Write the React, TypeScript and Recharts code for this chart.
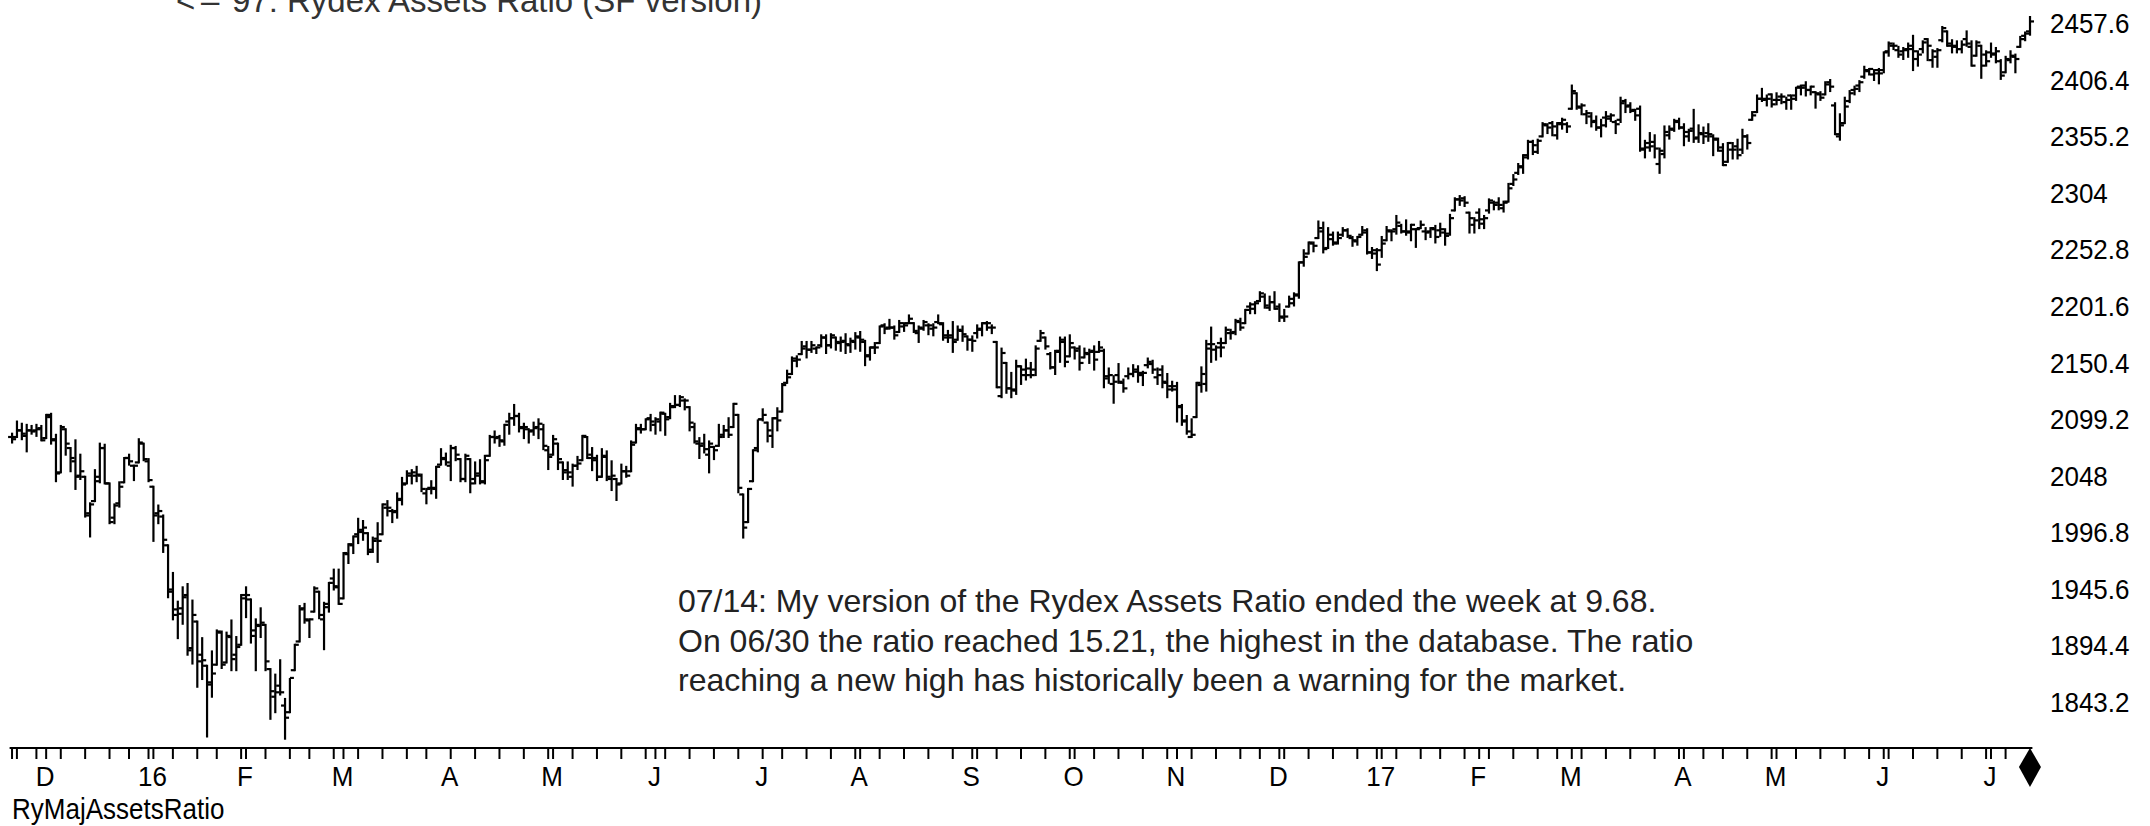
import React from 'react';
import { ComposedChart, Bar, XAxis, YAxis } from 'recharts';

const FONT = '"Liberation Sans", Arial, Helvetica, sans-serif';

// trading calendar
const START = [2015, 11, 19];
const END = [2017, 7, 14];
const HOLIDAYS = [
  '2015-11-26', '2015-12-25', '2016-01-01', '2016-01-18', '2016-02-15', '2016-03-25',
  '2016-05-30', '2016-07-04', '2016-09-05', '2016-11-24', '2016-12-26', '2017-01-02',
  '2017-01-16', '2017-02-20', '2017-04-14', '2017-05-29', '2017-07-04',
];

// daily bars [open, high, low, close], one array per month
const nov15 = [[2083,2086,2078,2081],[2083,2097,2083,2089],[2089,2095,2081,2086],[2084,2094,2070,2089],[2089,2093,2086,2088],[2089,2094,2084,2090],[2091,2093,2080,2080]];
const dec15 = [[2082,2103,2082,2103],[2101,2104,2077,2080],[2081,2085,2043,2050],[2051,2093,2051,2092],[2090,2090,2067,2077],[2073,2073,2052,2064],[2061,2080,2036,2047],[2048,2067,2045,2052],[2047,2047,2011,2012],[2014,2023,1993,2022],[2025,2053,2025,2043],[2047,2077,2042,2073],[2073,2076,2041,2041],[2041,2041,2005,2006],[2010,2022,2005,2021],[2023,2042,2020,2038],[2042,2064,2042,2064],[2064,2067,2058,2061],[2057,2057,2044,2057],[2060,2081,2060,2078],[2077,2077,2062,2063],[2061,2063,2043,2044]];
const jan16 = [[2038,2038,1989,2012],[2014,2021,2005,2016],[2011,2012,1979,1990],[1985,1985,1938,1943],[1945,1960,1918,1922],[1927,1934,1901,1923],[1928,1947,1914,1938],[1940,1950,1886,1890],[1892,1935,1878,1922],[1916,1916,1857,1880],[1886,1901,1864,1881],[1876,1876,1812,1859],[1861,1889,1848,1869],[1877,1908,1877,1907],[1906,1907,1874,1877],[1879,1906,1879,1903],[1902,1917,1872,1882],[1886,1902,1872,1893],[1895,1940,1895,1940]];
const feb16 = [[1937,1947,1920,1940],[1936,1936,1897,1903],[1908,1918,1872,1913],[1912,1928,1902,1915],[1913,1913,1872,1880],[1873,1873,1828,1853],[1848,1868,1834,1852],[1858,1881,1850,1852],[1840,1846,1810,1829],[1834,1864,1834,1865],[1872,1895,1872,1895],[1898,1930,1898,1927],[1928,1932,1915,1918],[1917,1918,1902,1918],[1925,1947,1925,1946],[1943,1943,1919,1922],[1918,1933,1891,1929],[1932,1951,1925,1951],[1955,1963,1945,1948],[1947,1963,1932,1932]];
const mar16 = [[1937,1978,1937,1978],[1977,1986,1969,1986],[1985,1993,1978,1993],[1995,2009,1987,1999],[1997,2007,1990,2001],[1996,1996,1977,1979],[1981,1992,1979,1989],[1991,2005,1970,1989],[1995,2022,1995,2022],[2019,2025,2012,2019],[2016,2017,2006,2015],[2016,2032,2010,2027],[2026,2046,2022,2040],[2041,2052,2041,2050],[2048,2053,2041,2051],[2048,2056,2043,2049],[2048,2049,2034,2036],[2032,2036,2023,2036],[2037,2043,2032,2037],[2036,2056,2028,2056],[2058,2072,2058,2064],[2063,2068,2058,2060]];
const apr16 = [[2057,2075,2044,2073],[2073,2074,2062,2067],[2063,2063,2043,2045],[2045,2067,2043,2066],[2063,2063,2033,2041],[2045,2060,2041,2048],[2050,2062,2041,2042],[2043,2066,2041,2062],[2066,2084,2066,2083],[2083,2088,2078,2082],[2083,2084,2075,2080],[2079,2094,2076,2094],[2097,2104,2086,2100],[2100,2112,2094,2102],[2102,2104,2088,2091],[2092,2095,2082,2092],[2090,2090,2078,2088],[2089,2096,2085,2091],[2092,2099,2082,2095],[2090,2094,2072,2075],[2071,2074,2054,2065]];
const may16 = [[2067,2084,2067,2081],[2077,2077,2054,2063],[2060,2060,2045,2051],[2053,2060,2045,2051],[2047,2058,2039,2057],[2057,2065,2054,2059],[2062,2084,2062,2084],[2083,2083,2064,2064],[2067,2073,2053,2064],[2062,2066,2044,2047],[2047,2072,2047,2066],[2065,2070,2044,2047],[2045,2061,2035,2048],[2045,2045,2026,2040],[2041,2058,2041,2052],[2052,2056,2047,2048],[2052,2079,2052,2076],[2078,2094,2078,2090],[2091,2094,2087,2090],[2090,2099,2090,2099],[2100,2103,2089,2097]];
const jun16 = [[2094,2100,2086,2099],[2097,2105,2089,2105],[2104,2104,2085,2099],[2101,2113,2100,2110],[2111,2120,2110,2112],[2112,2120,2111,2119],[2116,2117,2108,2116],[2110,2110,2089,2096],[2092,2095,2078,2079],[2077,2082,2064,2075],[2077,2085,2069,2072],[2067,2079,2051,2077],[2074,2074,2063,2071],[2075,2094,2075,2083],[2085,2093,2083,2089],[2089,2100,2083,2085],[2092,2113,2092,2113],[2103,2103,2033,2037],[2031,2031,1992,2001],[2006,2036,2006,2036],[2043,2071,2043,2071],[2073,2098,2070,2099]];
const jul16 = [[2099,2108,2098,2103],[2096,2096,2079,2089],[2084,2100,2074,2100],[2100,2109,2089,2098],[2106,2131,2106,2130],[2132,2143,2132,2137],[2140,2155,2140,2152],[2154,2156,2147,2153],[2158,2169,2158,2163],[2165,2169,2155,2162],[2162,2169,2160,2166],[2163,2164,2159,2164],[2166,2175,2165,2173],[2173,2175,2159,2166],[2166,2176,2164,2175],[2173,2173,2162,2169],[2168,2173,2161,2169],[2170,2176,2159,2167],[2166,2172,2160,2170],[2169,2177,2163,2174]];
const aug16 = [[2173,2178,2161,2171],[2169,2170,2148,2157],[2156,2164,2153,2164],[2164,2168,2159,2164],[2168,2183,2168,2183],[2184,2185,2177,2181],[2182,2189,2181,2182],[2182,2183,2172,2175],[2178,2188,2178,2186],[2183,2186,2179,2184],[2186,2193,2186,2190],[2186,2186,2178,2179],[2177,2183,2169,2182],[2181,2188,2180,2187],[2184,2185,2176,2184],[2181,2185,2175,2182],[2187,2193,2186,2186],[2185,2186,2171,2175],[2173,2179,2169,2173],[2175,2187,2160,2169],[2171,2183,2171,2180],[2179,2183,2170,2176],[2174,2174,2162,2171]];
const sep16 = [[2171,2174,2161,2170],[2177,2184,2173,2180],[2181,2186,2175,2186],[2186,2187,2180,2186],[2182,2184,2177,2182],[2169,2169,2128,2128],[2120,2163,2119,2159],[2150,2150,2123,2127],[2127,2141,2119,2126],[2125,2152,2122,2147],[2147,2147,2131,2139],[2144,2153,2135,2139],[2145,2150,2137,2139],[2144,2165,2139,2163],[2170,2179,2170,2177],[2173,2173,2163,2165],[2158,2159,2145,2146],[2146,2161,2140,2160],[2161,2173,2151,2171],[2169,2173,2147,2151],[2156,2175,2156,2168]];
const oct16 = [[2164,2164,2154,2161],[2163,2165,2144,2150],[2155,2163,2155,2159],[2158,2162,2150,2160],[2161,2165,2144,2153],[2160,2169,2160,2164],[2161,2162,2128,2136],[2138,2145,2132,2139],[2131,2138,2114,2133],[2139,2149,2132,2133],[2132,2135,2124,2127],[2138,2145,2136,2140],[2140,2148,2138,2144],[2142,2147,2133,2141],[2139,2142,2130,2141],[2148,2154,2146,2151],[2149,2152,2141,2144],[2137,2145,2131,2139],[2144,2147,2128,2133],[2132,2140,2119,2126],[2129,2133,2125,2126]];
const nov16 = [[2129,2132,2097,2111],[2110,2112,2094,2097],[2098,2102,2086,2088],[2083,2099,2083,2085],[2101,2132,2101,2132],[2130,2146,2124,2140],[2131,2170,2125,2163],[2167,2182,2151,2167],[2162,2165,2153,2164],[2168,2172,2156,2164],[2168,2182,2168,2180],[2177,2180,2172,2177],[2178,2189,2176,2188],[2187,2190,2180,2182],[2186,2198,2186,2198],[2201,2204,2195,2203],[2199,2205,2195,2204],[2206,2214,2206,2213],[2210,2212,2200,2202],[2200,2210,2198,2205],[2205,2214,2199,2199]];
const dec16 = [[2201,2203,2188,2192],[2191,2198,2188,2192],[2201,2210,2201,2204],[2208,2213,2202,2212],[2211,2241,2209,2241],[2241,2252,2238,2246],[2249,2259,2249,2259],[2258,2259,2251,2256],[2263,2278,2263,2272],[2269,2277,2250,2253],[2254,2272,2254,2262],[2266,2268,2257,2258],[2259,2268,2258,2263],[2266,2272,2265,2270],[2270,2271,2264,2265],[2263,2264,2256,2261],[2260,2264,2257,2264],[2266,2273,2266,2268],[2270,2271,2249,2250],[2250,2254,2245,2249],[2252,2253,2234,2239]];
const jan17 = [[2252,2264,2246,2258],[2261,2273,2261,2270],[2269,2270,2261,2269],[2271,2283,2267,2277],[2274,2275,2268,2269],[2269,2279,2266,2269],[2268,2275,2261,2275],[2271,2271,2255,2271],[2272,2278,2272,2275],[2269,2272,2262,2268],[2269,2272,2264,2272],[2271,2274,2259,2264],[2270,2276,2265,2271],[2268,2271,2257,2265],[2267,2284,2266,2281],[2288,2299,2288,2298],[2298,2301,2293,2297],[2299,2300,2292,2295],[2286,2286,2268,2281],[2275,2281,2268,2279]];
const feb17 = [[2286,2289,2272,2280],[2276,2283,2272,2281],[2288,2298,2286,2297],[2295,2296,2289,2293],[2295,2299,2289,2293],[2290,2296,2287,2295],[2296,2312,2296,2308],[2312,2320,2311,2316],[2322,2330,2321,2328],[2327,2338,2322,2338],[2336,2351,2335,2350],[2350,2351,2339,2347],[2341,2352,2340,2351],[2355,2367,2355,2366],[2365,2366,2358,2363],[2367,2368,2356,2364],[2356,2367,2353,2367],[2366,2371,2362,2370],[2366,2367,2359,2364]];
const mar17 = [[2380,2401,2380,2396],[2394,2394,2380,2382],[2381,2384,2375,2383],[2375,2378,2367,2376],[2373,2376,2364,2368],[2369,2373,2361,2363],[2363,2370,2355,2365],[2372,2377,2364,2373],[2371,2375,2369,2374],[2368,2369,2358,2366],[2370,2390,2368,2385],[2387,2388,2377,2382],[2383,2385,2377,2378],[2379,2379,2370,2374],[2380,2382,2342,2344],[2343,2351,2336,2349],[2345,2358,2342,2346],[2350,2356,2336,2344],[2330,2344,2322,2342],[2339,2364,2336,2359],[2356,2364,2353,2362],[2361,2370,2360,2369],[2368,2371,2362,2363]];
const apr17 = [[2363,2366,2347,2359],[2355,2361,2351,2360],[2362,2379,2350,2353],[2354,2365,2350,2358],[2357,2363,2349,2355],[2358,2366,2351,2357],[2355,2356,2338,2353],[2352,2353,2342,2345],[2342,2348,2329,2329],[2332,2349,2332,2349],[2343,2349,2335,2343],[2346,2352,2335,2338],[2343,2361,2340,2355],[2355,2356,2344,2349],[2370,2377,2370,2374],[2377,2392,2377,2389],[2389,2398,2387,2388],[2389,2392,2383,2389],[2393,2393,2382,2384]];
const may17 = [[2388,2394,2384,2388],[2391,2393,2385,2391],[2386,2390,2380,2388],[2392,2392,2380,2389],[2392,2399,2388,2399],[2400,2401,2393,2399],[2401,2404,2392,2397],[2397,2400,2393,2400],[2395,2395,2381,2394],[2393,2395,2388,2390],[2393,2404,2393,2402],[2404,2406,2396,2400],[2383,2385,2357,2357],[2355,2375,2352,2365],[2367,2390,2367,2382],[2387,2396,2386,2394],[2397,2400,2393,2398],[2401,2405,2396,2404],[2409,2418,2408,2415],[2414,2416,2411,2416],[2411,2415,2406,2412],[2415,2416,2403,2412]];
const jun17 = [[2415,2431,2413,2431],[2432,2440,2428,2439],[2437,2439,2434,2437],[2433,2436,2427,2429],[2432,2435,2425,2433],[2434,2439,2427,2434],[2437,2446,2415,2432],[2425,2432,2419,2429],[2434,2441,2431,2440],[2443,2443,2424,2437],[2424,2433,2418,2432],[2427,2434,2418,2433],[2442,2454,2441,2453],[2450,2450,2437,2437],[2439,2442,2431,2436],[2437,2441,2431,2434],[2434,2441,2431,2438],[2443,2450,2437,2439],[2436,2441,2419,2419],[2428,2441,2428,2440],[2437,2437,2408,2419],[2429,2432,2419,2423]];
const jul17 = [[2431,2439,2427,2429],[2430,2435,2422,2432],[2423,2424,2407,2410],[2413,2427,2413,2425],[2424,2432,2422,2428],[2427,2429,2413,2425],[2436,2445,2436,2443],[2446,2449,2442,2448],[2450,2463,2447,2459]];

const MONTH_SERIES = [nov15, dec15, jan16, feb16, mar16, apr16, may16, jun16, jul16, aug16, sep16, oct16, nov16, dec16, jan17, feb17, mar17, apr17, may17, jun17, jul17];
const MONTH_LETTERS = ['J', 'F', 'M', 'A', 'M', 'J', 'J', 'A', 'S', 'O', 'N', 'D'];
const Y_TICKS = [1843.2, 1894.4, 1945.6, 1996.8, 2048, 2099.2, 2150.4, 2201.6, 2252.8, 2304, 2355.2, 2406.4, 2457.6];
const Y_DOMAIN = [1801.6, 2478.4];

const TITLE_ARROW = '<';
const TITLE_DASH = '\u2013';
const TITLE = '97: Rydex Assets Ratio (SF version)';
const NOTE_LINES = [
  '07/14: My version of the Rydex Assets Ratio ended the week at 9.68.',
  'On 06/30 the ratio reached 15.21, the highest in the database. The ratio',
  'reaching a new high has historically been a warning for the market.',
];
const PANEL_LABEL = 'RyMajAssetsRatio';

type Row = {
  key: string; o: number; h: number; l: number; c: number; range: [number, number];
  yr: number; m: number; dn: number; monthStart: boolean; weekEnd: boolean;
};

function buildData(): Row[] {
  const hol = new Set(HOLIDAYS);
  const DAY = 86400000;
  let t = Date.UTC(START[0], START[1] - 1, START[2]);
  const end = Date.UTC(END[0], END[1] - 1, END[2]);
  const groups: { yr: number; m: number; days: { key: string; yr: number; m: number; dn: number }[] }[] = [];
  while (t <= end) {
    const dt = new Date(t);
    const wd = dt.getUTCDay();
    const key = dt.toISOString().slice(0, 10);
    if (wd !== 0 && wd !== 6 && !hol.has(key)) {
      const d = { key, yr: dt.getUTCFullYear(), m: dt.getUTCMonth(), dn: Math.floor(t / DAY) };
      const last = groups[groups.length - 1];
      if (!last || last.m !== d.m || last.yr !== d.yr) groups.push({ yr: d.yr, m: d.m, days: [d] });
      else last.days.push(d);
    }
    t += DAY;
  }
  const rows: Row[] = [];
  groups.forEach((g, gi) => {
    const vals = MONTH_SERIES[gi] || [];
    g.days.forEach((d, di) => {
      const v = vals[di];
      if (!v) return;
      rows.push({
        key: d.key, o: v[0], h: v[1], l: v[2], c: v[3], range: [v[2], v[1]],
        yr: d.yr, m: d.m, dn: d.dn, monthStart: di === 0 && gi > 0, weekEnd: false,
      });
    });
  });
  const week = (dn: number) => Math.floor((dn + 3) / 7);
  for (let i = 0; i < rows.length - 1; i++) {
    rows[i].weekEnd = week(rows[i].dn) !== week(rows[i + 1].dn);
  }
  return rows;
}

const DATA = buildData();
const LAST = DATA.length - 1;
const TICK_INFO = new Map<string, { label?: string; last?: boolean }>();
DATA.forEach((r, i) => {
  if (i === LAST) TICK_INFO.set(r.key, { last: true });
  else if (r.monthStart) TICK_INFO.set(r.key, { label: r.m === 0 ? String(r.yr).slice(2) : MONTH_LETTERS[r.m] });
  else if (i === 0 || r.weekEnd) TICK_INFO.set(r.key, {});
});
const X_TICKS = Array.from(TICK_INFO.keys());

const W = 2150;
const H = 826;
const PLOT_LEFT = 9.6;
const Y_AXIS_W = 117.6;
const X_AXIS_H = 78;

const XTick = (props: any) => {
  const { x, y, payload } = props;
  const info = TICK_INFO.get(payload.value);
  if (!info) return null;
  if (info.last) {
    return <polygon points={`${x},${y} ${x + 11},${y + 19} ${x},${y + 39} ${x - 11},${y + 19}`} fill="#000" />;
  }
  return (
    <g>
      <line x1={x} x2={x} y1={y} y2={y + 11} stroke="#000" strokeWidth={2} />
      {info.label ? (
        <text
          transform={`translate(${x - 1},${y + 38}) scale(1,1.05)`}
          textAnchor="middle"
          fontSize={26}
          fontFamily={FONT}
          fill="#000"
        >
          {info.label}
        </text>
      ) : null}
    </g>
  );
};

const YTick = (props: any) => {
  const { x, y, payload } = props;
  return (
    <text
      transform={`translate(${x},${y + 10}) scale(1,1.08)`}
      textAnchor="start"
      fontSize={26}
      fontFamily={FONT}
      fill="#000"
    >
      {String(payload.value)}
    </text>
  );
};

const OhlcShape = (props: any) => {
  const { x, y, width, height, payload } = props;
  if (x == null || y == null || !payload) return null;
  const top = Math.min(y, y + height);
  const bot = Math.max(y, y + height);
  const span = payload.h - payload.l;
  const pos = (v: number) => (span > 0 ? top + ((payload.h - v) / span) * (bot - top) : top);
  const cx = x + width / 2;
  const yo = pos(payload.o);
  const yc = pos(payload.c);
  return (
    <g stroke="#000" strokeWidth={2.2}>
      <line x1={cx} x2={cx} y1={top - 1} y2={Math.max(bot, top + 1) + 1} />
      <line x1={cx - 4} x2={cx} y1={yo} y2={yo} />
      <line x1={cx} x2={cx + 4} y1={yc} y2={yc} />
    </g>
  );
};

export default function App() {
  return (
    <div style={{ position: 'absolute', left: 0, top: 0, width: W, height: H, background: '#fff', overflow: 'hidden' }}>
      <ComposedChart
        width={W}
        height={H}
        data={DATA}
        margin={{ top: 0, right: 0, bottom: 0, left: PLOT_LEFT }}
        barCategoryGap="10%"
      >
        <XAxis
          dataKey="key"
          ticks={X_TICKS}
          interval={0}
          height={X_AXIS_H}
          tickSize={0}
          tickMargin={0}
          tickLine={false}
          axisLine={{ stroke: '#000', strokeWidth: 2 }}
          tick={<XTick />}
        />
        <YAxis
          orientation="right"
          type="number"
          domain={Y_DOMAIN}
          allowDataOverflow
          ticks={Y_TICKS}
          interval={0}
          width={Y_AXIS_W}
          axisLine={false}
          tickLine={false}
          tickSize={0}
          tickMargin={17.6}
          tick={<YTick />}
        />
        <Bar dataKey="range" isAnimationActive={false} shape={(p: any) => <OhlcShape {...p} />} />
      </ComposedChart>
      <svg width={W} height={H} style={{ position: 'absolute', left: 0, top: 0, pointerEvents: 'none' }}>
        <text x={176} y={12} fontSize={33} fontFamily={FONT} fill="#333">{TITLE_ARROW}</text>
        <text x={201} y={12} fontSize={33} fontFamily={FONT} fill="#333">{TITLE_DASH}</text>
        <text x={232} y={12} fontSize={33} fontFamily={FONT} fill="#333">{TITLE}</text>
        {NOTE_LINES.map((line, i) => (
          <text key={i} x={678} y={612 + i * 39.5} fontSize={32} fontFamily={FONT} fill="#222">{line}</text>
        ))}
        <text transform="translate(12,819) scale(1,1.1)" fontSize={26} fontFamily={FONT} fill="#000">{PANEL_LABEL}</text>
      </svg>
    </div>
  );
}
